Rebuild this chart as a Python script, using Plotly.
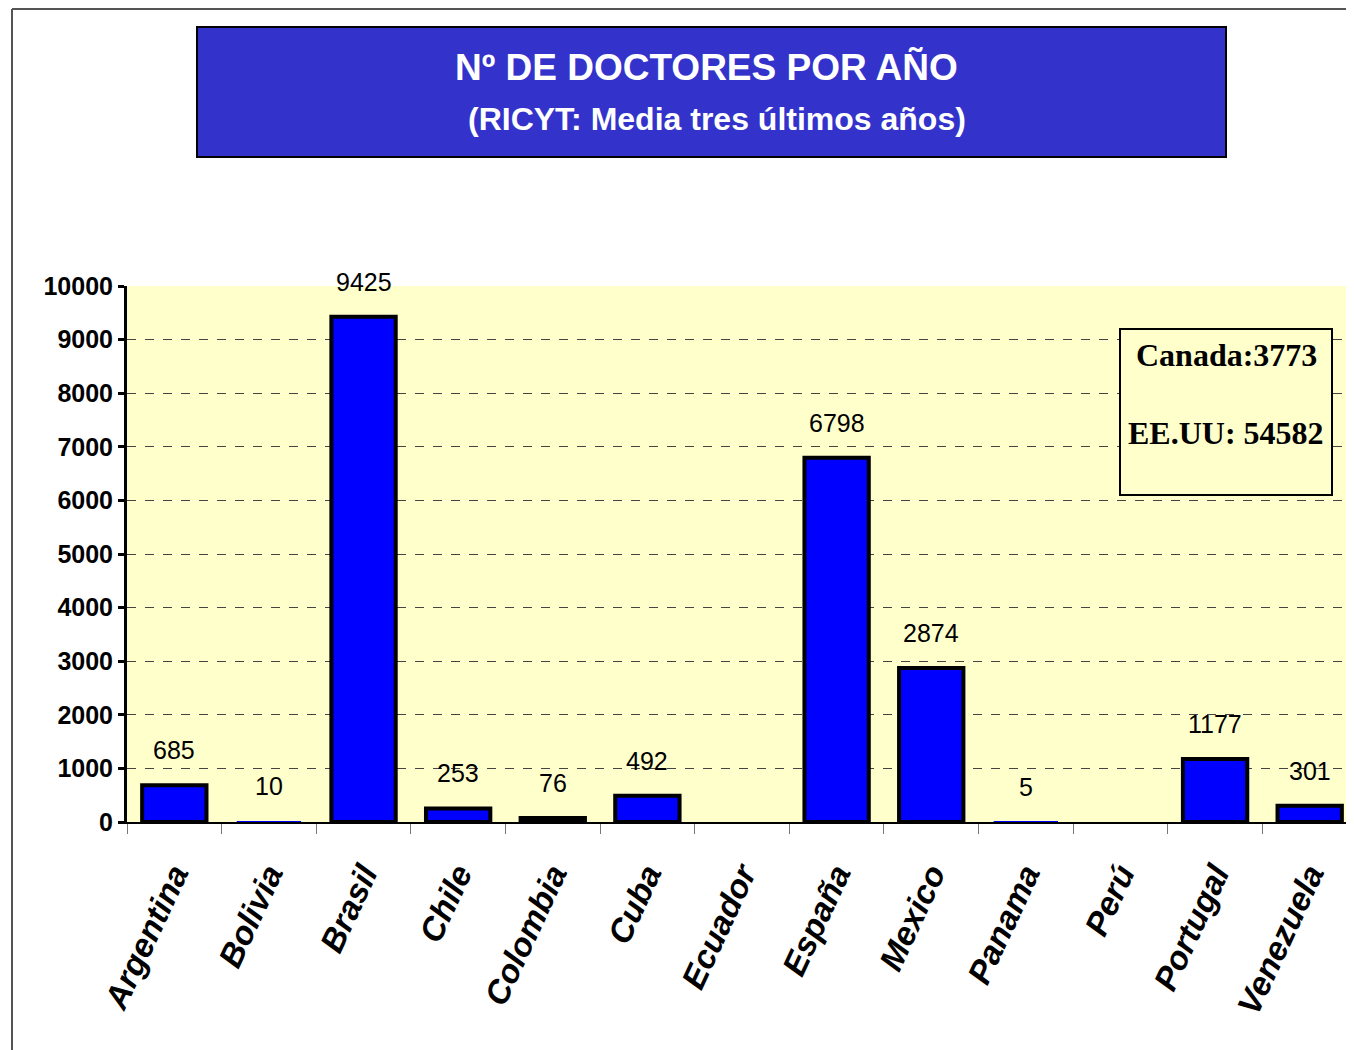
import plotly.graph_objects as go

paises = ["Argentina", "Bolivia", "Brasil", "Chile", "Colombia", "Cuba", "Ecuador",
          "España", "Mexico", "Panama", "Perú", "Portugal", "Venezuela"]
doctores = [685, 10, 9425, 253, 76, 492, None, 6798, 2874, 5, None, 1177, 301]
y_ticks = [0, 1000, 2000, 3000, 4000, 5000, 6000, 7000, 8000, 9000, 10000]

OFF = 8  # page body margin
W, H = 1354, 1050
L, R, T, B = 127 - OFF, 5, 286 - OFF, H - (822 - OFF)
PW, PH = W - L - R, H - T - B


def px(x):
    # screen x -> paper fraction
    return (x - OFF - L) / PW


def py(y):
    # screen y -> paper fraction
    return (H - B - (y - OFF)) / PH


line_w = [4 if (v is not None and v > 50) else 0 for v in doctores]

fig = go.Figure()
fig.add_trace(go.Bar(
    x=paises, y=doctores,
    width=0.68,
    marker=dict(color="#0000FF", line=dict(color="black", width=line_w)),
    hoverinfo="x+y",
))

for p, v in zip(paises, doctores):
    if v is None:
        continue
    fig.add_annotation(x=p, y=v, text=str(v), showarrow=False, yanchor="middle",
                       yshift=35, font=dict(family="Liberation Sans, Arial", size=25, color="black"))

# Title box
fig.add_shape(type="rect", xref="paper", yref="paper",
              x0=px(197), x1=px(1226), y0=py(157), y1=py(27),
              fillcolor="#3333CC", line=dict(color="black", width=2), layer="above")
fig.add_annotation(xref="paper", yref="paper", x=px(706), y=py(67), text="Nº DE DOCTORES POR AÑO",
                   showarrow=False, xanchor="center", yanchor="middle",
                   font=dict(family="Liberation Sans, Arial", size=37, color="white", weight="bold"))
fig.add_annotation(xref="paper", yref="paper", x=px(717), y=py(119), text="(RICYT: Media tres últimos años)",
                   showarrow=False, xanchor="center", yanchor="middle",
                   font=dict(family="Liberation Sans, Arial", size=32, color="white", weight="bold"))

# Text box
fig.add_shape(type="rect", xref="paper", yref="paper",
              x0=px(1120), x1=px(1332), y0=py(495), y1=py(329),
              fillcolor="#FFFFCC", line=dict(color="black", width=2), layer="above")
fig.add_annotation(xref="paper", yref="paper", x=px(1226), y=py(355), text="Canada:3773",
                   showarrow=False, xanchor="center", yanchor="middle",
                   font=dict(family="Liberation Serif, Times New Roman", size=32, color="black", weight="bold"))
fig.add_annotation(xref="paper", yref="paper", x=px(1226), y=py(433), text="EE.UU: 54582",
                   showarrow=False, xanchor="center", yanchor="middle",
                   font=dict(family="Liberation Serif, Times New Roman", size=32, color="black", weight="bold"))

# Outer frame lines
fig.add_shape(type="line", xref="paper", yref="paper", x0=px(12), x1=px(1362), y0=py(OFF + 1), y1=py(OFF + 1),
              line=dict(color="#555555", width=2))
fig.add_shape(type="line", xref="paper", yref="paper", x0=px(12), x1=px(12), y0=py(OFF + 1), y1=py(1060),
              line=dict(color="#555555", width=2))

fig.update_layout(
    width=W, height=H,
    margin=dict(l=L, r=R, t=T, b=B, autoexpand=False),
    paper_bgcolor="white", plot_bgcolor="#FFFFCC",
    showlegend=False,
    xaxis=dict(
        type="category", tickangle=-65,
        tickfont=dict(family="Liberation Sans, Arial", size=33, color="black", weight="bold", style="italic"),
        ticks="outside", tickson="boundaries", ticklen=10, tickcolor="#777777", tickwidth=1,
        ticklabelstandoff=18,
        showline=True, linecolor="black", linewidth=1.5,
        showgrid=False,
    ),
    yaxis=dict(
        range=[0, 10000], tickvals=y_ticks, ticktext=[str(t) for t in y_ticks],
        tickfont=dict(family="Liberation Sans, Arial", size=25, color="black", weight="bold"),
        ticks="outside", ticklen=6, tickwidth=3, tickcolor="black",
        showline=True, linecolor="black", linewidth=3,
        showgrid=True, gridcolor="#444444", griddash="dash", gridwidth=1,
        zeroline=False,
    ),
)

fig.write_html("out.html")
